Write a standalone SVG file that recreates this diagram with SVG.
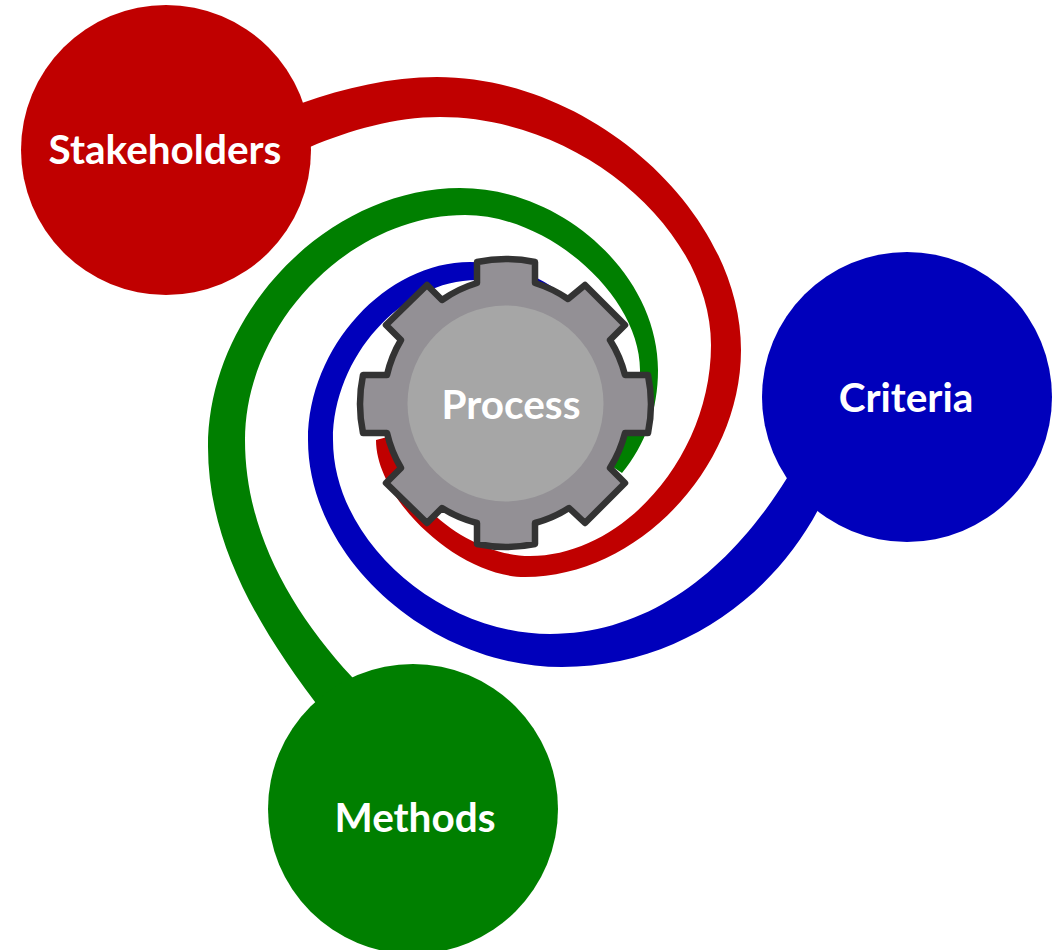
<svg xmlns="http://www.w3.org/2000/svg" width="1056" height="950" viewBox="0 0 1056 950">
<style>
.t{font-family:"Lato","Open Sans",sans-serif;font-weight:700;font-size:40.5px;fill:#fff;text-anchor:middle}
.red{fill:#c00000}.blue{fill:#0000bb}.green{fill:#007f00}
</style>
<rect width="1056" height="950" fill="#fff"/>
<g id="connectors">
<path class="red" d="M285 110L302 103C345 88 390 77 437 77C592 77 741 212 741 350C741 468 637 577 525 577C459 577 376 500 376 440L395 435C395 500 470 556 530 556C624 556 711 455 711 345C711 230 581 117 440 117C395 117 350 130 310 147L285 158Z"/>
<path class="green" d="M325 715C255 625 208 540 208 447C208 312 329 188 460 188C563 188 658 275 658 370C658 410 645 445 622 473L610 465C630 435 640 405 640 370C640 296 549 215 465 215C351 215 245 323 245 440C245 530 290 610 352 677L370 695Z"/>
<path class="blue" d="M830 490L818 510C770 600 675 667 562 667C430 667 308 558 308 440C308 347 386 262 470 262C505 262 535 273 565 296L535 290C515 283 500 280 477 280C402 280 333 357 333 440C333 541 440 634 550 634C650 634 730 570 787 478L810 460Z"/>
</g>
<g id="stakeholders"><circle cx="166" cy="150" r="145" class="red"/><text class="t" x="165" y="164">Stakeholders</text></g>
<g id="criteria"><circle cx="907" cy="397" r="145" class="blue"/><text class="t" x="906" y="412">Criteria</text></g>
<g id="methods"><circle cx="413" cy="809" r="145" class="green"/><text class="t" x="415" y="832">Methods</text></g>
<g id="process">
<path d="M477 262A143 143 0 0 1 535 262L535 283A122 122 0 0 1 568 299L585 285L625 325L610 340A122 122 0 0 1 625 375L648 375A143 143 0 0 1 648 433L625 433A122 122 0 0 1 610 468L625 483L585 523L569 508A122 122 0 0 1 535 523L535 544A143 143 0 0 1 477 544L477 523A122 122 0 0 1 442 508L427 523L386 483L401 468A122 122 0 0 1 387 433L363 433A143 143 0 0 1 363 375L387 375A122 122 0 0 1 401 340L386 325L427 285L442 300A122 122 0 0 1 477 283Z" fill="#939095" stroke="#333" stroke-width="6.5" stroke-linejoin="round"/>
<circle cx="505.5" cy="403.5" r="98" fill="#a6a6a6"/>
<text class="t" x="511" y="419">Process</text>
</g>
</svg>
